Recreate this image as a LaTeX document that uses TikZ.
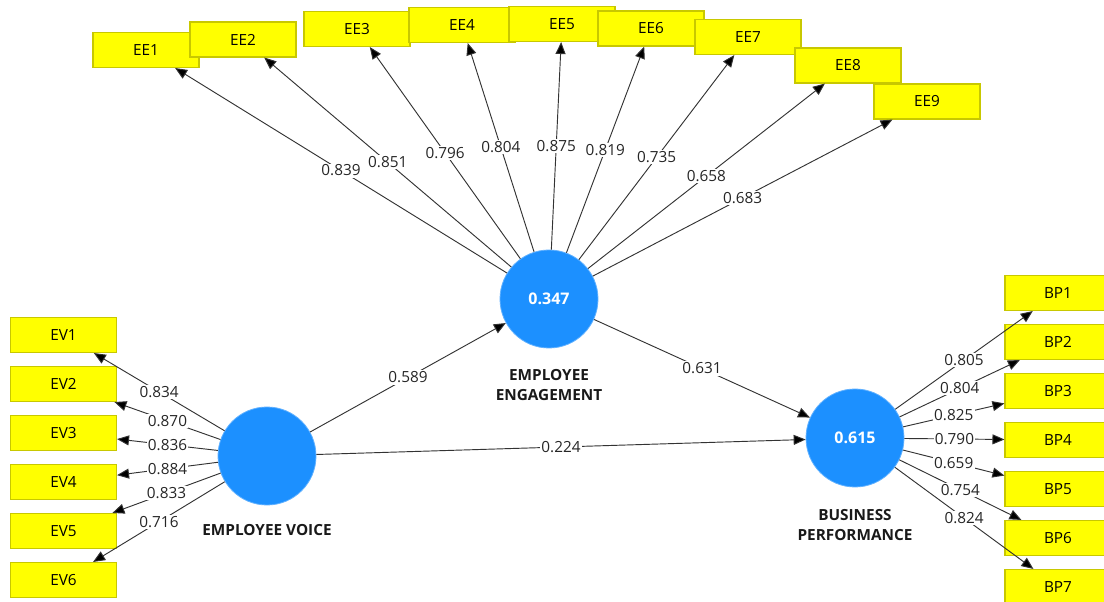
\documentclass[tikz,border=0pt]{standalone}
\usepackage{fontspec}
\setmainfont{Open Sans}
\usetikzlibrary{arrows.meta}
\definecolor{lvblue}{RGB}{28,144,255}
\definecolor{itemyellow}{RGB}{255,255,0}
\definecolor{itemedge}{RGB}{200,200,0}

\begin{document}
\begin{tikzpicture}[x=0.75pt, y=-0.75pt,
      item/.style={draw=itemedge, fill=itemyellow, line width=0.8pt, minimum width=79.5pt, minimum height=26.25pt, inner sep=0pt, font=\fontsize{11.5}{13}\selectfont},
      latent/.style={circle, fill=lvblue, draw=lvblue!70!white, line width=0.6pt, minimum size=73.5pt, inner sep=0pt, text=white, font=\fontsize{12}{14}\selectfont\bfseries},
      lvname/.style={font=\fontsize{11.5}{15.5}\selectfont\bfseries, align=center, text=black!90},
      arrow/.style={-{Triangle[length=9pt, width=7.5pt, fill=black]}, draw=black!80, line width=0.7pt},
      coef/.style={fill=white, inner sep=1pt, font=\fontsize{11.5}{13}\selectfont, text=black!85}
    ]

      \clip (0,0) rectangle (1104,602);

      % Latent variables
      \node[latent] (ev) at (267,456) {};
      \node[latent] (ee) at (549,299) {0.347};
      \node[latent] (bp) at (855,438) {0.615};

      % Names under the circles
      \node[lvname] (ev_name) at (267,530) {EMPLOYEE VOICE};
      \node[lvname] (ee_name) at (549,385) {EMPLOYEE\\ENGAGEMENT};
      \node[lvname] (bp_name) at (855,525) {BUSINESS\\PERFORMANCE};

      % Engagement indicators - fanned out on top
      \foreach \n/\x/\y in {1/146/50, 2/243/39.5, 3/357/29, 4/462/25, 5/562/24,
                            6/651/28.5, 7/748/37, 8/848/65.5, 9/927/101.5} {
        \node[item] (ee\n) at (\x,\y) {EE\n};
      }

      % Voice indicators - column on the left
      \foreach \n in {1,...,6} {
        \node[item] (ev\n) at (63.5,{335+49*(\n-1)}) {EV\n};
      }

      % Performance indicators - column on the right
      \foreach \n in {1,...,7} {
        \node[item] (bp\n) at (1058,{293+49*(\n-1)}) {BP\n};
      }

      % Outer loadings
      \foreach \n/\v in {1/0.839, 2/0.851, 3/0.796, 4/0.804, 5/0.875,
                         6/0.819, 7/0.735, 8/0.658, 9/0.683} {
        \draw[arrow] (ee) -- node[coef] {\v} (ee\n);
      }
      \foreach \n/\v in {1/0.834, 2/0.870, 3/0.836, 4/0.884, 5/0.833, 6/0.716} {
        \draw[arrow] (ev) -- node[coef] {\v} (ev\n);
      }
      \foreach \n/\v in {1/0.805, 2/0.804, 3/0.825, 4/0.790, 5/0.659, 6/0.754, 7/0.824} {
        \draw[arrow] (bp) -- node[coef] {\v} (bp\n);
      }

      % Path coefficients
      \draw[arrow] (ev) -- node[coef] {0.589} (ee);
      \draw[arrow] (ee) -- node[coef] {0.631} (bp);
      \draw[arrow] (ev) -- node[coef] {0.224} (bp);

    \end{tikzpicture}
\end{document}
